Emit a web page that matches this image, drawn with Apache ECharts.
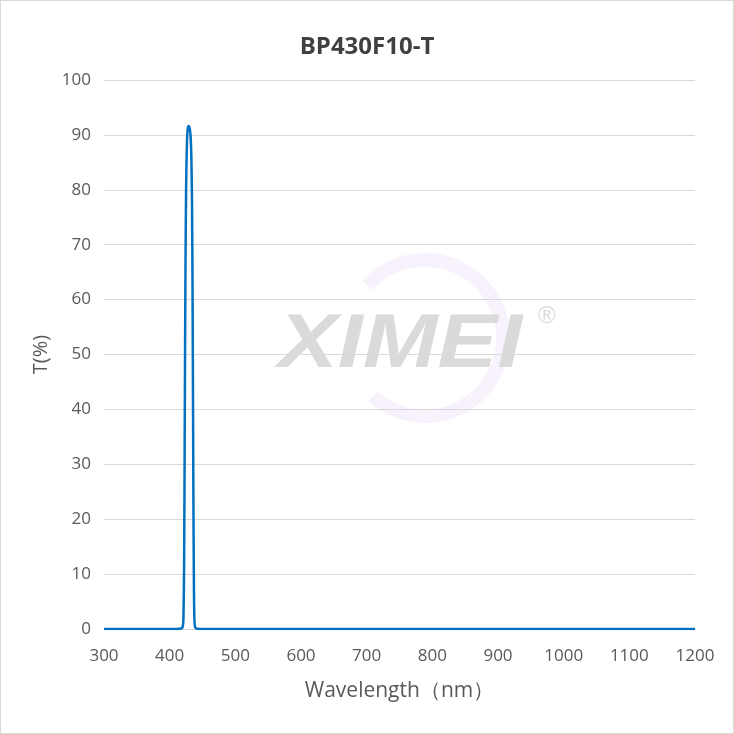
<!DOCTYPE html>
<html><head><meta charset="utf-8">
<script src="https://cdn.jsdelivr.net/npm/echarts@6/dist/echarts.min.js"></script>
<style>html,body{margin:0;padding:0;background:#fff}#w{position:relative;width:734px;height:734px}#c{width:734px;height:734px}#b{position:absolute;left:0;top:0;width:734px;height:734px;box-sizing:border-box;border:1px solid #d9d9d9;pointer-events:none}</style>
</head><body><div id="w"><div id="c"></div><div id="b"></div></div>
<script>
const wavelengths = [300, 410, 418, 420, 421, 422, 423, 424, 425, 426, 427, 428, 429, 430, 431, 432, 433, 434, 435, 436, 437, 438, 440, 450, 1200];
const transmission = [0, 0, 0.1, 0.5, 2, 12, 38, 64, 80, 87, 90.5, 91.5, 91.6, 91.4, 90.8, 89.5, 86, 78, 58, 28, 7, 1, 0.1, 0, 0];
const xTicks = [300, 1200, 100];
const yTicks = [0, 100, 10];
const chart = echarts.init(document.getElementById('c'));
const font = '"Open Sans", "Noto Sans", sans-serif';
chart.setOption({
  animation: false,
  title: {text: 'BP430F10-T', left: 'center', top: 30, textStyle: {fontFamily: font, fontSize: 24, fontWeight: 'bold', color: '#404040'}},
  graphic: [
    {type: 'arc', z: 0, shape: {cx: 425, cy: 338, r: 78, startAngle: -2.4, endAngle: 2.3, clockwise: true},
      style: {stroke: 'rgba(232,218,245,0.35)', lineWidth: 14, fill: null}},
    {type: 'text', left: 278, top: 308, z: 1, scaleX: 1.18, style: {text: 'XIMEI', font: 'italic bold 76px "Liberation Sans", sans-serif', fill: '#dadada'}},
    {type: 'text', left: 538, top: 304, z: 1, style: {text: '®', font: '24px "Liberation Sans", sans-serif', fill: '#dadada'}}
  ],
  grid: {left: 104, right: 39, top: 80, bottom: 105},
  xAxis: {type: 'value', min: xTicks[0], max: xTicks[1], interval: xTicks[2],
    name: 'Wavelength（nm）', nameLocation: 'middle', nameGap: 52,
    nameTextStyle: {fontFamily: font, fontSize: 21, color: '#595959'},
    axisLine: {show: true, lineStyle: {color: '#d9d9d9'}}, axisTick: {show: false},
    axisLabel: {fontFamily: font, fontSize: 17, color: '#595959', margin: 19, formatter: v => String(v)},
    splitLine: {show: false}},
  yAxis: {type: 'value', min: yTicks[0], max: yTicks[1], interval: yTicks[2],
    name: 'T(%)', nameLocation: 'middle', nameGap: 51,
    nameTextStyle: {fontFamily: font, fontSize: 20, color: '#595959'},
    axisLine: {show: false}, axisTick: {show: false},
    axisLabel: {fontFamily: font, fontSize: 17, color: '#595959', margin: 13},
    splitLine: {lineStyle: {color: '#d9d9d9'}}},
  series: [{type: 'line', data: wavelengths.map((w, i) => [w, transmission[i]]), smooth: 0.3, showSymbol: false,
    lineStyle: {color: '#0070c0', width: 2.5}, z: 3}]
});
</script></body></html>
